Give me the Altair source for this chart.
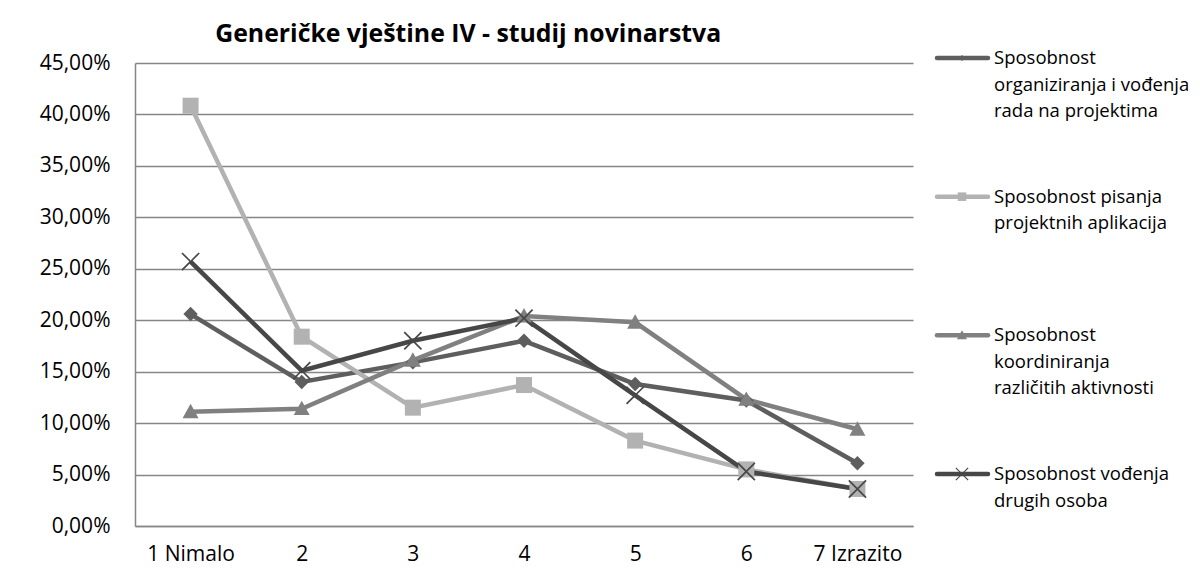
import altair as alt
import pandas as pd

# ---------------- data ----------------
categories = ["1 Nimalo", "2", "3", "4", "5", "6", "7 Izrazito"]

series_names = [
    "Sposobnost organiziranja i vođenja rada na projektima",
    "Sposobnost pisanja projektnih aplikacija",
    "Sposobnost koordiniranja različitih aktivnosti",
    "Sposobnost vođenja drugih osoba",
]
legend_labels = [
    "Sposobnost\norganiziranja i vođenja\nrada na projektima",
    "Sposobnost pisanja\nprojektnih aplikacija",
    "Sposobnost\nkoordiniranja\nrazličitih aktivnosti",
    "Sposobnost vođenja\ndrugih osoba",
]

organiziranja = [20.6, 14.0, 15.9, 18.0, 13.8, 12.2, 6.1]
pisanja = [40.85, 18.4, 11.5, 13.7, 8.3, 5.5, 3.6]
koordiniranja = [11.1, 11.4, 16.1, 20.4, 19.8, 12.3, 9.4]
vodjenja = [25.7, 15.1, 18.0, 20.2, 12.7, 5.3, 3.6]

title_text = "Generičke vještine IV - studij novinarstva"

# ---------------- styles ----------------
colors = ["#5e5e5e", "#b2b2b2", "#808080", "#474747"]
FONT = "Open Sans"
GRID = "#868686"

diamond = "M0,-0.9L0.9,0L0,0.9L-0.9,0Z"
square = "M-1,-1H1V1H-1Z"
triangle = "M0,-1L1,0.8H-1Z"
a, d = 1.15, 0.15
xmark = (f"M{-a},{-a+d}L{-a+d},{-a}L0,{-d}L{a-d},{-a}L{a},{-a+d}L{d},0"
         f"L{a},{a-d}L{a-d},{a}L0,{d}L{-a+d},{a}L{-a},{a-d}L{-d},0Z")
shapes = [diamond, square, triangle, xmark]

rows = []
for s, vals in zip(series_names, [organiziranja, pisanja, koordiniranja, vodjenja]):
    for c, v in zip(categories, vals):
        rows.append({"series": s, "cat": c, "value": v})
df = pd.DataFrame(rows)

color_scale = alt.Scale(domain=series_names, range=colors)
shape_scale = alt.Scale(domain=series_names, range=shapes)

x = alt.X(
    "cat:N", sort=categories,
    scale=alt.Scale(type="point", padding=0.5),
    axis=alt.Axis(title=None, labelAngle=0, ticks=False, labelFontSize=21,
                  labelFont=FONT, labelColor="#000", labelPadding=17,
                  domainColor=GRID, domainWidth=1.5),
)
y = alt.Y(
    "value:Q", scale=alt.Scale(domain=[0, 45], nice=False),
    axis=alt.Axis(title=None, values=list(range(0, 50, 5)),
                  labelExpr="replace(format(datum.value, '.2f'), '.', ',') + '%'",
                  ticks=False, labelPadding=25, labelFontSize=21, labelFont=FONT,
                  labelColor="#000", gridColor=GRID, gridWidth=1.5,
                  domainColor=GRID, domainWidth=1.5),
)

lines = alt.Chart(df).mark_line(strokeWidth=4.5).encode(
    x=x, y=y,
    color=alt.Color("series:N", scale=color_scale, legend=None),
)
points = alt.Chart(df).mark_point(filled=True, opacity=1, size=256).encode(
    x=x, y=y,
    color=alt.Color("series:N", scale=color_scale, legend=None),
    shape=alt.Shape("series:N", scale=shape_scale, legend=None),
)
main = (lines + points).properties(width=778, height=463)

# ---------------- legend panel ----------------
leg_df = pd.DataFrame({"series": series_names, "label": legend_labels})
ly = alt.Y("series:N", sort=series_names,
           scale=alt.Scale(type="point", range=[-5, 411], padding=0), axis=None)
lcolor = alt.Color("series:N", scale=color_scale, legend=None)

rule = alt.Chart(leg_df).mark_rule(strokeWidth=4.5, strokeCap="round").encode(
    x=alt.value(2), x2=alt.value(53), y=ly, color=lcolor,
)
lpts = alt.Chart(leg_df).mark_point(filled=True, opacity=1).encode(
    x=alt.value(27), y=ly, color=lcolor,
    shape=alt.Shape("series:N", scale=shape_scale, legend=None),
    size=alt.Size("series:O", sort=series_names,
                  scale=alt.Scale(domain=series_names, range=[45, 130, 100, 50]),
                  legend=None),
)
ltxt = alt.Chart(leg_df).mark_text(
    align="left", baseline="top", dy=-9, lineBreak="\n", lineHeight=26.5,
    fontSize=18.5, font=FONT, color="#000",
).encode(x=alt.value(59), y=ly, text="label:N")

legend = (rule + lpts + ltxt).properties(width=200, height=463)

chart = (
    alt.hconcat(main, legend, spacing=21)
    .resolve_scale(y="independent")
    .properties(
        title=alt.TitleParams(title_text, font=FONT, fontSize=24.8, fontWeight="bold",
                              color="#000", anchor="middle", dx=-146, offset=2),
        padding={"left": 31, "top": 14, "right": 0, "bottom": 6},
    )
    .configure_view(stroke=None)
)

chart.save("out.html", embed_options={"renderer": "svg", "actions": False})
